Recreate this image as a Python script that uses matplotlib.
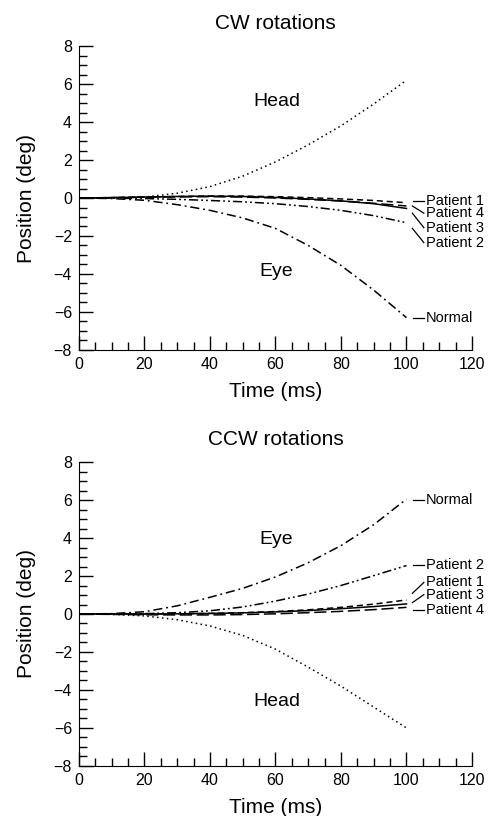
import matplotlib
matplotlib.use("Agg")
import matplotlib.pyplot as plt
from matplotlib.ticker import MultipleLocator

plt.rcParams['font.family'] = ['Liberation Sans', 'DejaVu Sans']

# time samples (ms)
t = [0, 10, 20, 30, 40, 50, 60, 70, 80, 90, 100]

# CW rotations (deg)
head_cw = [0, 0.0, 0.05, 0.25, 0.6, 1.15, 1.9, 2.8, 3.8, 4.95, 6.2]
normal_cw = [0, -0.03, -0.12, -0.35, -0.65, -1.05, -1.6, -2.5, -3.55, -4.85, -6.3]
p1_cw = [0, 0.02, 0.05, 0.08, 0.1, 0.1, 0.07, 0.02, -0.05, -0.13, -0.25]
p2_cw = [0, -0.01, -0.03, -0.07, -0.13, -0.2, -0.3, -0.45, -0.65, -0.93, -1.3]
p3_cw = [0, 0.02, 0.04, 0.06, 0.07, 0.05, 0.0, -0.07, -0.16, -0.28, -0.42]
p4_cw = [0, 0.02, 0.05, 0.08, 0.1, 0.08, 0.03, -0.05, -0.15, -0.3, -0.55]

# CCW rotations (deg)
head_ccw = [0, -0.02, -0.1, -0.3, -0.63, -1.13, -1.85, -2.8, -3.8, -4.9, -6.0]
normal_ccw = [0, 0.02, 0.12, 0.43, 0.88, 1.35, 1.95, 2.7, 3.6, 4.7, 6.05]
p1_ccw = [0, 0.0, 0.0, 0.01, 0.03, 0.07, 0.13, 0.22, 0.35, 0.52, 0.74]
p2_ccw = [0, 0.0, 0.02, 0.07, 0.17, 0.37, 0.68, 1.05, 1.5, 2.02, 2.55]
p3_ccw = [0, 0.0, 0.0, 0.01, 0.03, 0.06, 0.11, 0.18, 0.28, 0.39, 0.53]
p4_ccw = [0, -0.02, -0.04, -0.05, -0.05, -0.03, 0.01, 0.07, 0.14, 0.23, 0.35]

# curve end labels: (name, leader start y, text y)
labels_cw = [("Patient 1", -0.15, -0.15), ("Patient 4", -0.42, -0.8),
             ("Patient 3", -0.8, -1.56), ("Patient 2", -1.6, -2.35),
             ("Normal", -6.33, -6.33)]
labels_ccw = [("Normal", 6.0, 6.0), ("Patient 2", 2.6, 2.6),
              ("Patient 1", 1.09, 1.66), ("Patient 3", 0.6, 1.02),
              ("Patient 4", 0.2, 0.2)]

DOT = (0, (1, 2.2))
DASH = (0, (4, 2.5))
LONGDASH = (0, (8, 3))
DASHDOT = (0, (6, 2.5, 1.2, 2.5))
DASHDOTDOT = (0, (6, 2, 1.2, 2, 1.2, 2))

fig = plt.figure(figsize=(4.93, 8.16), dpi=100)


def style_axes(ax, title):
    ax.set_xlim(0, 120)
    ax.set_ylim(-8, 8)
    for side in ['top', 'right']:
        ax.spines[side].set_visible(False)
    ax.xaxis.set_major_locator(MultipleLocator(20))
    ax.xaxis.set_minor_locator(MultipleLocator(5))
    ax.yaxis.set_major_locator(MultipleLocator(2))
    ax.yaxis.set_minor_locator(MultipleLocator(0.5))
    ax.tick_params(which='major', direction='in', length=10, width=1, labelsize=11.5, pad=5)
    ax.tick_params(which='minor', direction='in', length=6, width=1)
    ax.set_title(title, fontsize=15, pad=12)
    ax.set_xlabel("Time (ms)", fontsize=15)
    ax.set_ylabel("Position (deg)", fontsize=15)
    ax.xaxis.set_label_coords(0.5, -0.105)
    ax.yaxis.set_label_coords(-0.11, 0.5)


def add_labels(ax, labels):
    for name, y0, y1 in labels:
        if y0 == y1:
            ax.plot([102, 105.3], [y0, y1], color='black', lw=0.9, clip_on=False)
        else:
            ax.plot([101.8, 105.3], [y0, y1], color='black', lw=0.9, clip_on=False)
        ax.text(106, y1, name, fontsize=10.5, va='center', ha='left')


ax1 = fig.add_axes([0.1602, 0.5711, 0.7972, 0.3725])
ax1.plot(t, head_cw, color='black', lw=1.1, linestyle=DOT)
ax1.plot(t, normal_cw, color='black', lw=1.1, linestyle=DASHDOT)
ax1.plot(t, p1_cw, color='black', lw=1.1, linestyle=DASH)
ax1.plot(t, p3_cw, color='black', lw=1.1, linestyle=LONGDASH)
ax1.plot(t, p4_cw, color='black', lw=1.1, linestyle='-')
ax1.plot(t, p2_cw, color='black', lw=1.1, linestyle=DASHDOTDOT)
ax1.text(60.3, 5.07, "Head", fontsize=14, ha='center', va='center')
ax1.text(60.3, -3.88, "Eye", fontsize=14, ha='center', va='center')
add_labels(ax1, labels_cw)
style_axes(ax1, "CW rotations")

ax2 = fig.add_axes([0.1602, 0.0613, 0.7972, 0.3725])
ax2.plot(t, head_ccw, color='black', lw=1.1, linestyle=DOT)
ax2.plot(t, normal_ccw, color='black', lw=1.1, linestyle=DASHDOT)
ax2.plot(t, p2_ccw, color='black', lw=1.1, linestyle=DASHDOTDOT)
ax2.plot(t, p1_ccw, color='black', lw=1.1, linestyle=DASH)
ax2.plot(t, p3_ccw, color='black', lw=1.1, linestyle='-')
ax2.plot(t, p4_ccw, color='black', lw=1.1, linestyle=LONGDASH)
ax2.text(60.3, 3.9, "Eye", fontsize=14, ha='center', va='center')
ax2.text(60.3, -4.58, "Head", fontsize=14, ha='center', va='center')
add_labels(ax2, labels_ccw)
style_axes(ax2, "CCW rotations")

fig.savefig("out.png", dpi=100)
